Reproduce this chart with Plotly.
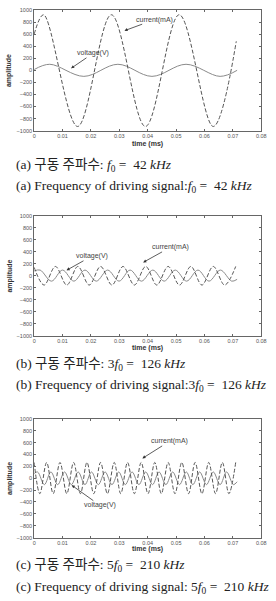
import plotly.graph_objects as go

# ---------------- data ----------------
# panel (a): 42 kHz
t_a_cur = [0, 0.0033, 0.0153, 0.0272, 0.0392, 0.0511, 0.0631, 0.0712]
i_a = [600, 920, -930, 920, -930, 920, -930, 480]
t_a_volt = [0, 0.0055, 0.0175, 0.0295, 0.0415, 0.0535, 0.0655, 0.0715]
v_a = [13, 100, -100, 100, -100, 100, -100, 0]

# panel (b): 126 kHz
t_b_cur = [0, 0.0035, 0.0075, 0.0115, 0.0154, 0.0194, 0.0234, 0.0274, 0.0313,
           0.0353, 0.0393, 0.0432, 0.0472, 0.0512, 0.0552, 0.0591, 0.0631,
           0.0671, 0.0710]
i_b = [140, -155, 155, -155, 155, -155, 155, -155, 155,
       -155, 155, -155, 155, -155, 155, -155, 155, -155, 155]
t_b_volt = [0, 0.0021, 0.0061, 0.0100, 0.0140, 0.0179, 0.0219, 0.0259, 0.0299,
            0.0338, 0.0378, 0.0418, 0.0458, 0.0497, 0.0537, 0.0577, 0.0616,
            0.0656, 0.0696, 0.0715]
v_b = [80, 95, -90, 95, -90, 95, -90, 95, -90,
       95, -90, 95, -90, 95, -90, 95, -90, 95, -90, -60]

# panel (c): 210 kHz
t_c_cur = [0, 0.0020, 0.0044, 0.0067, 0.0091, 0.0115, 0.0139, 0.0163, 0.0186,
           0.0210, 0.0234, 0.0258, 0.0282, 0.0305, 0.0329, 0.0353, 0.0377,
           0.0401, 0.0425, 0.0448, 0.0472, 0.0496, 0.0520, 0.0544, 0.0567,
           0.0591, 0.0615, 0.0639, 0.0663, 0.0686, 0.0710]
i_c = [265, -260, 265, -260, 265, -260, 265, -260, 265,
       -260, 265, -260, 265, -260, 265, -260, 265,
       -260, 265, -260, 265, -260, 265, -260, 265,
       -260, 265, -260, 265, -260, 265]
t_c_volt = [0, 0.0012, 0.0036, 0.0059, 0.0083, 0.0107, 0.0131, 0.0155, 0.0179,
            0.0202, 0.0226, 0.0250, 0.0274, 0.0298, 0.0321, 0.0345, 0.0369,
            0.0393, 0.0417, 0.0440, 0.0464, 0.0488, 0.0512, 0.0536, 0.0559,
            0.0583, 0.0607, 0.0631, 0.0655, 0.0678, 0.0702, 0.0715]
v_c = [80, 105, -108, 105, -108, 105, -108, 105, -108,
       105, -108, 105, -108, 105, -108, 105, -108,
       105, -108, 105, -108, 105, -108, 105, -108,
       105, -108, 105, -108, 105, -108, -60]

x_ticks = [0, 0.01, 0.02, 0.03, 0.04, 0.05, 0.06, 0.07, 0.08]
x_tick_text = ["0", "0.01", "0.02", "0.03", "0.04", "0.05", "0.06", "0.07", "0.08"]
y_ticks = [-1000, -800, -600, -400, -200, 0, 200, 400, 600, 800, 1000]

captions_kr = [
    "(a) 구동 주파수: <i>f</i><sub>0</sub> =  42 <i>kHz</i>",
    "(b) 구동 주파수: 3<i>f</i><sub>0</sub> =  126 <i>kHz</i>",
    "(c) 구동 주파수: 5<i>f</i><sub>0</sub> =  210 <i>kHz</i>",
]
captions_en = [
    "(a) Frequency of driving signal:<i>f</i><sub>0</sub> =  42 <i>kHz</i>",
    "(b) Frequency of driving signal:3<i>f</i><sub>0</sub> =  126 <i>kHz</i>",
    "(c) Frequency of driving signal: 5<i>f</i><sub>0</sub> =  210 <i>kHz</i>",
]

# ---------------- layout geometry (pixels) ----------------
W, H = 276, 601
panels_px = [(7, 129), (215, 336), (420, 540)]  # top, bottom of plot areas
x_px = (33, 266)
xtitle_y = [142, 348, 552]
cap1_y = [164, 365, 568]
cap2_y = [185, 386, 590]

def py(p):
    return 1 - p / H

fig = go.Figure()

series = [
    (t_a_cur, i_a, t_a_volt, v_a),
    (t_b_cur, i_b, t_b_volt, v_b),
    (t_c_cur, i_c, t_c_volt, v_c),
]

axis_common = dict(
    showline=True, linecolor="#666", linewidth=1, mirror="ticks",
    ticks="inside", ticklen=2, tickcolor="#666", showgrid=False, zeroline=False,
    tickfont=dict(family="Liberation Sans, Arial", size=5.5, color="#555"),
)

for k, (tc, ic, tv, vv) in enumerate(series):
    sx = "" if k == 0 else str(k + 1)
    fig.add_trace(go.Scatter(
        x=tv, y=vv, mode="lines", xaxis="x" + sx, yaxis="y" + sx,
        line=dict(color="#8a8a8a", width=1, shape="spline", smoothing=1.0),
        showlegend=False, hoverinfo="skip"))
    fig.add_trace(go.Scatter(
        x=tc, y=ic, mode="lines", xaxis="x" + sx, yaxis="y" + sx,
        line=dict(color="#555", width=1, dash="4px,2px", shape="spline", smoothing=1.0),
        showlegend=False, hoverinfo="skip"))
    top, bot = panels_px[k]
    fig.update_layout(**{
        "xaxis" + sx: dict(domain=[x_px[0] / W, x_px[1] / W], range=[0, 0.08],
                           tickvals=x_ticks, ticktext=x_tick_text,
                           anchor="y" + sx, **axis_common),
        "yaxis" + sx: dict(domain=[py(bot), py(top)], range=[-1000, 1000],
                           tickvals=y_ticks, anchor="x" + sx, **axis_common),
    })

ann = []
label_font = dict(family="Liberation Sans, Arial", size=7, color="#444")
for k in range(3):
    top, bot = panels_px[k]
    ann.append(dict(text="<b>time (ms)</b>", x=(x_px[0] + x_px[1]) / 2 / W, y=py(xtitle_y[k]),
                    xref="paper", yref="paper", showarrow=False,
                    xanchor="center", yanchor="middle",
                    font=dict(family="Liberation Sans, Arial", size=7, color="#333")))
    ann.append(dict(text="<b>amplitude</b>", x=8 / W, y=py((top + bot) / 2),
                    xref="paper", yref="paper", showarrow=False, textangle=-90,
                    xanchor="center", yanchor="middle",
                    font=dict(family="Liberation Sans, Arial", size=7, color="#333")))
    ann.append(dict(text=captions_kr[k], x=12 / W, y=py(cap1_y[k]),
                    xanchor="left", yanchor="middle",
                    xref="paper", yref="paper", showarrow=False,
                    font=dict(family="Liberation Serif, Noto Serif, Noto Sans CJK KR", size=13.5, color="#222")))
    ann.append(dict(text=captions_en[k], x=12 / W, y=py(cap2_y[k]),
                    xanchor="left", yanchor="middle",
                    xref="paper", yref="paper", showarrow=False,
                    font=dict(family="Liberation Serif, Noto Serif", size=13.5, color="#222")))

# series labels with arrows: (axis suffix, text, head x, head y, text offset px ax, ay)
labels = [
    ("", "current(mA)", 0.0318, 656, 30, -11),
    ("", "voltage(V)", 0.0130, 33, 22, -15),
    ("2", "current(mA)", 0.0384, 223, 27, -15),
    ("2", "voltage(V)", 0.0114, 91, 25, -14),
    ("3", "current(mA)", 0.0381, 333, 27, -17),
    ("3", "voltage(V)", 0.0132, -117, 28, 20),
]
for sx, txt, hx, hy, ax, ay in labels:
    ann.append(dict(text=txt, x=hx, y=hy, xref="x" + sx, yref="y" + sx,
                    showarrow=True, ax=ax, ay=ay, arrowhead=2, arrowsize=0.8,
                    arrowwidth=0.8, arrowcolor="#333", font=label_font,
                    borderpad=0))

fig.update_layout(
    width=W, height=H, margin=dict(l=0, r=0, t=0, b=0),
    paper_bgcolor="white", plot_bgcolor="white",
    annotations=ann, showlegend=False,
)

fig.write_html("out.html")
